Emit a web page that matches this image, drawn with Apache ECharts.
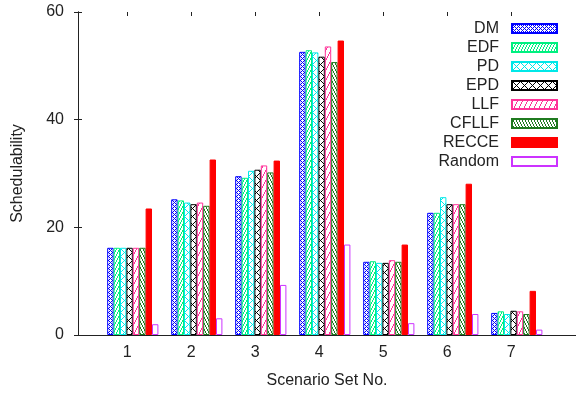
<!DOCTYPE html>
<html><head><meta charset="utf-8">
<script src="https://cdn.jsdelivr.net/npm/echarts@6/dist/echarts.min.js"></script>
<style>html,body{margin:0;padding:0;background:#fff}#c{width:576px;height:395px}</style>
</head><body><div id="c"></div>
<script>
const categories = ['1','2','3','4','5','6','7'];
const seriesNames = ['DM','EDF','PD','EPD','LLF','CFLLF','RECCE','Random'];
const DM     = [16.2, 25.2, 29.5, 52.6, 13.6, 22.7, 4.1];
const EDF    = [16.2, 25.0, 29.2, 52.9, 13.7, 22.7, 4.4];
const PD     = [16.2, 24.6, 30.5, 52.5, 13.4, 25.6, 3.9];
const EPD    = [16.2, 24.3, 30.7, 51.7, 13.4, 24.3, 4.5];
const LLF    = [16.2, 24.6, 31.5, 53.6, 13.9, 24.3, 4.4];
const CFLLF  = [16.2, 24.0, 30.2, 50.7, 13.6, 24.3, 3.9];
const RECCE  = [23.5, 32.6, 32.4, 54.7, 16.8, 28.1, 8.2];
const Random = [2.0, 3.1, 9.3, 16.8, 2.2, 3.9, 1.0];
const yTicks = [0, 20, 40, 60];
const xTitle = 'Scenario Set No.';
const yTitle = 'Schedulability';

const values = [DM, EDF, PD, EPD, LLF, CFLLF, RECCE, Random];
const FONT = '"Liberation Sans", Arial, sans-serif';
const TXT = '#222';
const LINE = '#222';

function pat(w, h, color, fn) {
  const c = document.createElement('canvas');
  c.width = w; c.height = h;
  const g = c.getContext('2d');
  g.fillStyle = '#fff'; g.fillRect(0, 0, w, h);
  g.fillStyle = color;
  for (let y = 0; y < h; y++) for (let x = 0; x < w; x++) if (fn(x, y)) g.fillRect(x, y, 1, 1);
  return { image: c, repeat: 'repeat' };
}
const mod = (a, n) => ((a % n) + n) % n;
const looks = [
  { c: '#0000ff', f: pat(4, 4, '#0000ff', (x, y) => mod(x + y, 4) === 0 || mod(x - y, 4) === 0) },
  { c: '#00f080', f: pat(3, 6, '#00f080', (x, y) => mod(2 * x + y, 6) < 2) },
  { c: '#00e8e8', f: pat(8, 8, '#00e8e8', (x, y) => mod(x + y, 8) === 0 || mod(x - y, 8) === 0) },
  { c: '#000000', f: pat(8, 8, '#000000', (x, y) => mod(x + y, 8) === 0 || mod(x - y, 8) === 0) },
  { c: '#ff3399', f: pat(5, 10, '#ff3399', (x, y) => mod(2 * x + y, 10) < 2) },
  { c: '#1f7a1f', f: pat(3, 6, '#1f7a1f', (x, y) => mod(2 * x - y, 6) < 2) },
  { c: '#ff0000', f: '#ff0000' },
  { c: '#cc33ff', f: '#ffffff' }
];

const chart = echarts.init(document.getElementById('c'), null, { renderer: 'canvas' });
const lineAxis = (extra) => Object.assign({
  axisLine: { show: true, lineStyle: { color: LINE, width: 1 } },
  axisTick: { show: false }, axisLabel: { show: false }, splitLine: { show: false }
}, extra);

chart.setOption({
  animation: false,
  backgroundColor: '#fff',
  textStyle: { fontFamily: FONT },
  grid: [
    { left: 78, top: 12, width: 498, height: 323 },
    { left: 100.8, top: 12, width: 448, height: 323 },
    { left: 95.3, top: 12, width: 448, height: 323 }
  ],
  xAxis: [
    lineAxis({ gridIndex: 0, type: 'value', min: 0, max: 1, position: 'bottom',
      name: xTitle, nameLocation: 'middle', nameGap: 38,
      nameTextStyle: { fontSize: 16, color: TXT, fontFamily: FONT } }),
    lineAxis({ gridIndex: 0, type: 'value', min: 0, max: 1, position: 'top' }),
    { gridIndex: 1, type: 'category', data: categories, show: false },
    { gridIndex: 2, type: 'category', data: categories, position: 'bottom',
      axisLine: { show: false }, axisTick: { show: false }, splitLine: { show: false },
      axisLabel: { margin: 10, fontSize: 16, color: TXT, fontFamily: FONT } },
    { gridIndex: 2, type: 'category', data: categories, position: 'top',
      axisLine: { show: false }, splitLine: { show: false }, axisLabel: { show: false },
      axisTick: { show: true, inside: true, length: 4, alignWithLabel: true, lineStyle: { color: LINE } } }
  ],
  yAxis: [
    { gridIndex: 0, type: 'value', min: yTicks[0], max: yTicks[yTicks.length - 1], interval: yTicks[1] - yTicks[0],
      position: 'left',
      axisLine: { show: true, lineStyle: { color: LINE, width: 1 } },
      axisTick: { show: true, inside: true, length: 4, lineStyle: { color: LINE } },
      axisLabel: { margin: 14, fontSize: 16, color: TXT, fontFamily: FONT },
      splitLine: { show: false },
      name: yTitle, nameLocation: 'middle', nameGap: 52,
      nameTextStyle: { fontSize: 16, color: TXT, fontFamily: FONT } },
    { gridIndex: 0, type: 'value', min: yTicks[0], max: yTicks[yTicks.length - 1], interval: yTicks[1] - yTicks[0],
      position: 'right',
      axisLine: { show: true, lineStyle: { color: LINE, width: 1 } },
      axisTick: { show: true, inside: true, length: 4, lineStyle: { color: LINE } },
      axisLabel: { show: false }, splitLine: { show: false } },
    { gridIndex: 1, type: 'value', min: yTicks[0], max: yTicks[yTicks.length - 1], show: false },
    { gridIndex: 2, type: 'value', min: yTicks[0], max: yTicks[yTicks.length - 1], show: false }
  ],
  legend: {
    orient: 'vertical', right: 18, top: 20.5, padding: 0, align: 'right',
    itemWidth: 45, itemHeight: 9, itemGap: 3, icon: 'rect', selectedMode: false,
    data: seriesNames,
    textStyle: { fontSize: 16, color: TXT, fontFamily: FONT, padding: [0, 8, 0, 0] }
  },
  series: seriesNames.map((n, i) => ({
    type: 'bar', name: n, xAxisIndex: 2, yAxisIndex: 2,
    data: values[i], barWidth: 6.4, barGap: '0%', silent: true,
    itemStyle: { color: looks[i].f, borderColor: looks[i].c, borderWidth: 1 }
  }))
});
</script></body></html>
